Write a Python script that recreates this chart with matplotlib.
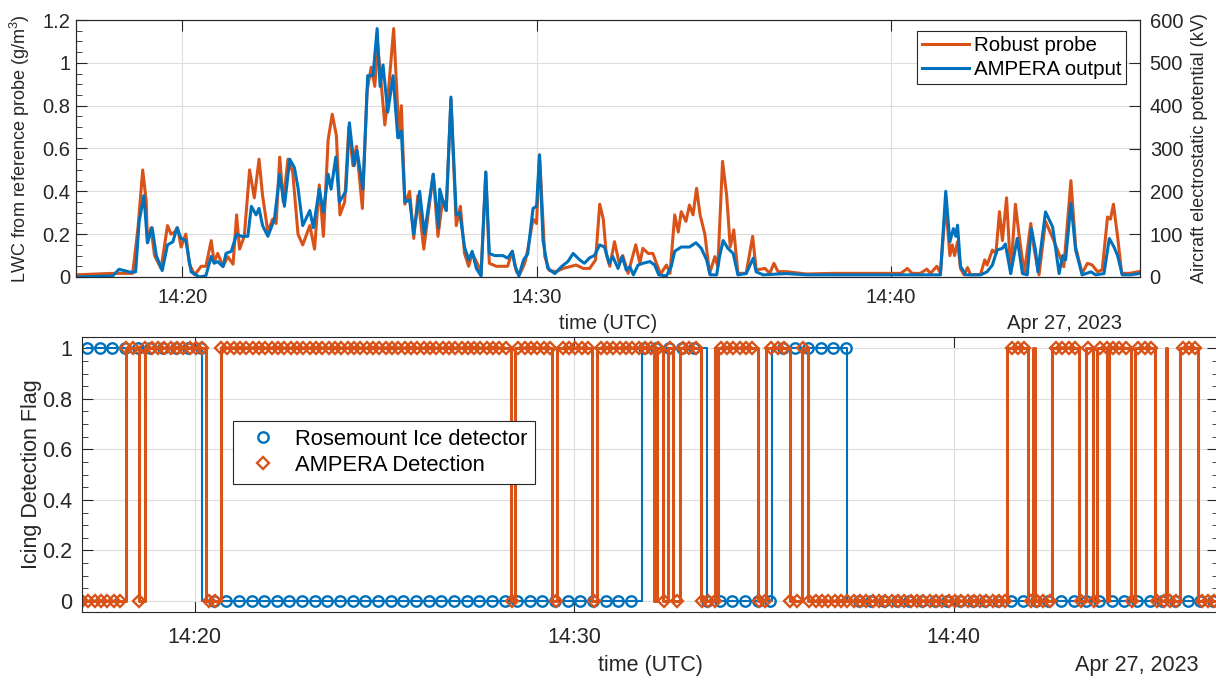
import numpy as np
import matplotlib
matplotlib.use('Agg')
from matplotlib import pyplot as plt
import matplotlib.dates as mdates
from matplotlib.ticker import MultipleLocator, FuncFormatter
from matplotlib.lines import Line2D

plt.rcParams['font.family'] = ['Liberation Sans', 'DejaVu Sans']
plt.rcParams['mathtext.fontset'] = 'custom'
plt.rcParams['mathtext.rm'] = 'Liberation Sans'

BLUE = '#0072BD'
ORANGE = '#D95319'
INK = '#262626'
GRID = '#dcdcdc'

# time is seconds after 14:17:00 UTC
T0 = np.datetime64('2023-04-27T14:17:00')

# (s, g/m3) robust probe LWC
robust = [
    (0, 0.01), (62, 0.017), (96, 0.017), (105, 0.23), (113, 0.50), (119, 0.35),
    (121, 0.16), (127, 0.23), (133, 0.10), (144, 0.04), (155, 0.24), (161, 0.20),
    (167, 0.21), (172, 0.23), (178, 0.14), (186, 0.20), (192, 0.06), (201, 0.01),
    (212, 0.05), (220, 0.05), (229, 0.17), (234, 0.07), (240, 0.11), (249, 0.05),
    (257, 0.095), (266, 0.06), (272, 0.29), (277, 0.13), (285, 0.19), (294, 0.50),
    (302, 0.37), (310, 0.55), (316, 0.38), (325, 0.21), (333, 0.27), (339, 0.25),
    (345, 0.56), (351, 0.35), (359, 0.55), (367, 0.49), (376, 0.20), (384, 0.15),
    (396, 0.24), (404, 0.13), (412, 0.43), (419, 0.19), (427, 0.64), (434, 0.76),
    (441, 0.66), (447, 0.29), (455, 0.35), (462, 0.70), (469, 0.52), (475, 0.61),
    (485, 0.32), (493, 0.87), (500, 0.98), (506, 0.89), (511, 1.08), (517, 0.90),
    (523, 0.71), (528, 0.83), (538, 1.16), (544, 0.83), (547, 0.65), (551, 0.80),
    (557, 0.34), (565, 0.40), (572, 0.18), (579, 0.38), (589, 0.13), (599, 0.35),
    (605, 0.48), (613, 0.19), (621, 0.36), (627, 0.31), (635, 0.83), (644, 0.24),
    (651, 0.33), (658, 0.11), (665, 0.05), (671, 0.11), (681, 0.056), (686, 0.01),
    (694, 0.49), (700, 0.064), (712, 0.05), (731, 0.05), (739, 0.12), (746, 0.025),
    (751, 0.01), (760, 0.064), (765, 0.126), (774, 0.27), (780, 0.25), (785, 0.57),
    (794, 0.095), (802, 0.03), (813, 0.025), (825, 0.04), (836, 0.048), (847, 0.056),
    (859, 0.04), (870, 0.04), (880, 0.08), (887, 0.34), (893, 0.27), (898, 0.11),
    (904, 0.05), (912, 0.165), (920, 0.064), (926, 0.10), (935, 0.017), (948, 0.15),
    (955, 0.064), (960, 0.134), (969, 0.11), (977, 0.11), (983, 0.064), (990, 0.014),
    (1000, 0.056), (1006, 0.017), (1014, 0.29), (1020, 0.21), (1025, 0.305),
    (1033, 0.26), (1039, 0.336), (1045, 0.29), (1051, 0.414), (1057, 0.29),
    (1065, 0.20), (1073, 0.017), (1082, 0.095), (1087, 0.048), (1095, 0.54),
    (1102, 0.38), (1108, 0.14), (1114, 0.22), (1121, 0.017), (1135, 0.017),
    (1146, 0.19), (1152, 0.033), (1167, 0.04), (1175, 0.017), (1182, 0.064),
    (1189, 0.025), (1203, 0.025), (1237, 0.014), (1284, 0.017), (1340, 0.017),
    (1397, 0.017), (1408, 0.04), (1416, 0.017), (1430, 0.017), (1441, 0.037),
    (1447, 0.017), (1458, 0.05), (1464, 0.017), (1473, 0.34), (1480, 0.10),
    (1484, 0.15), (1488, 0.10), (1493, 0.165), (1498, 0.04), (1504, 0.01),
    (1510, 0.044), (1515, 0.01), (1532, 0.012), (1539, 0.08), (1543, 0.056),
    (1552, 0.126), (1558, 0.11), (1564, 0.305), (1569, 0.17), (1576, 0.37),
    (1583, 0.017), (1591, 0.34), (1597, 0.20), (1606, 0.017), (1617, 0.25),
    (1623, 0.126), (1631, 0.01), (1642, 0.26), (1656, 0.17), (1673, 0.048),
    (1685, 0.45), (1693, 0.14), (1704, 0.017), (1713, 0.064), (1721, 0.056),
    (1730, 0.025), (1738, 0.033), (1747, 0.28), (1752, 0.27), (1757, 0.34),
    (1764, 0.19), (1771, 0.017), (1784, 0.017), (1800, 0.025),
]

# (s, kV) AMPERA output
ampera = [
    (0, 0), (62, 2.5), (73, 18), (93, 11), (101, 12), (107, 130), (115, 190),
    (121, 80), (129, 115), (136, 50), (146, 15), (155, 75), (164, 82), (171, 115),
    (178, 90), (186, 85), (195, 12), (209, 0), (220, 3), (229, 48), (234, 32),
    (240, 36), (249, 24), (254, 55), (263, 60), (272, 100), (280, 95), (291, 95),
    (297, 165), (305, 145), (310, 160), (316, 120), (325, 95), (336, 135),
    (345, 240), (353, 165), (362, 275), (370, 255), (376, 208), (384, 120),
    (396, 155), (402, 115), (412, 205), (419, 152), (427, 240), (432, 205),
    (440, 280), (446, 175), (457, 200), (463, 360), (471, 260), (476, 295),
    (486, 205), (494, 470), (503, 470), (510, 580), (515, 445), (520, 495),
    (528, 385), (537, 470), (545, 325), (551, 340), (557, 175), (565, 180),
    (572, 100), (582, 200), (590, 100), (605, 240), (614, 115), (616, 205),
    (621, 180), (627, 155), (635, 420), (639, 295), (644, 145), (650, 150),
    (658, 70), (665, 40), (671, 60), (678, 20), (686, 2.5), (694, 245), (700, 55),
    (709, 50), (723, 50), (731, 44), (739, 60), (743, 28), (750, 2.5), (758, 40),
    (765, 54), (774, 160), (780, 165), (785, 285), (791, 85), (799, 20), (811, 8),
    (822, 24), (833, 36), (842, 55), (853, 40), (861, 32), (870, 45), (878, 50),
    (887, 75), (895, 70), (903, 32), (909, 48), (918, 20), (925, 48), (932, 16),
    (938, 24), (944, 5), (952, 28), (960, 32), (972, 36), (980, 28), (987, 5),
    (1000, 2.5), (1008, 24), (1014, 60), (1025, 70), (1039, 70), (1050, 80),
    (1059, 67), (1068, 40), (1074, 5), (1085, 5), (1090, 48), (1096, 85),
    (1104, 67), (1113, 55), (1121, 5), (1135, 8), (1147, 44), (1152, 12),
    (1164, 5), (1203, 8), (1237, 5), (1397, 5), (1464, 5), (1473, 200), (1480, 82),
    (1486, 113), (1490, 95), (1493, 121), (1498, 25), (1507, 5), (1532, 5),
    (1543, 12), (1552, 28), (1560, 63), (1569, 67), (1574, 77), (1583, 8),
    (1594, 90), (1603, 8), (1611, 5), (1618, 113), (1625, 63), (1629, 12),
    (1642, 152), (1654, 117), (1665, 8), (1671, 50), (1676, 40), (1685, 172),
    (1693, 63), (1704, 5), (1719, 12), (1727, 5), (1741, 8), (1750, 90),
    (1758, 70), (1764, 50), (1772, 5), (1786, 5), (1800, 8),
]

# icing flag = 1 periods (s)
rosemount_on = [(0, 192), (887, 990), (1093, 1211)]
ampera_on = [
    (71, 92), (101, 198), (221, 680), (687, 745), (753, 808), (816, 906),
    (911, 921), (929, 937), (948, 981), (1003, 1004), (1007, 1071), (1083, 1122),
    (1140, 1150), (1464, 1498), (1506, 1509), (1535, 1578), (1590, 1601),
    (1607, 1623), (1626, 1660), (1667, 1698), (1715, 1718), (1738, 1767),
]
# sample times of the two flags (s)
rosemount_t = np.arange(10, 1800, 20)
ampera_t = np.arange(2, 1800, 10)


def to_time(sec):
    return T0 + np.round(np.asarray(sec, dtype=float) * 1000).astype('timedelta64[ms]')


def flag_at(t, on):
    return np.array([1 if any(a <= x < b for a, b in on) else 0 for x in t])


def step_xy(on, t0, t1):
    xs, ys = [t0], [0]
    for a, b in on:
        if a <= t0:
            ys[0] = 1
            xs += [b, b]
            ys += [1, 0]
        else:
            xs += [a, a, b, b]
            ys += [0, 1, 1, 0]
    xs.append(t1)
    ys.append(0)
    return xs, ys


def style_time_axis(ax):
    ax.xaxis.set_major_locator(mdates.MinuteLocator(byminute=[20, 30, 40]))
    ax.xaxis.set_major_formatter(mdates.DateFormatter('%H:%M'))


fmt = FuncFormatter(lambda v, p: '%g' % round(v, 3))

fig = plt.figure(figsize=(12.16, 6.82), dpi=100)

# ---- top panel: LWC and potential
ax1 = fig.add_axes([76 / 1216, 1 - 277 / 682, 1064 / 1216, 257 / 682])
ax1r = ax1.twinx()
rt, rv = np.array(robust).T
at, av = np.array(ampera).T
l1, = ax1.plot(to_time(rt), rv, color=ORANGE, lw=2.2, solid_joinstyle='round',
               label='Robust probe')
l2, = ax1r.plot(to_time(at), av, color=BLUE, lw=2.2, solid_joinstyle='round',
                label='AMPERA output')

ax1.set_xlim(to_time(0), to_time(1802))
ax1.set_ylim(0, 1.2)
ax1r.set_ylim(0, 600)
style_time_axis(ax1)
ax1.yaxis.set_major_locator(MultipleLocator(0.2))
ax1.yaxis.set_minor_locator(MultipleLocator(0.05))
ax1.yaxis.set_major_formatter(fmt)
ax1r.yaxis.set_major_locator(MultipleLocator(100))
ax1.set_axisbelow(True)
ax1.grid(True, color=GRID, lw=0.8)

ax1.tick_params(axis='x', which='both', direction='in', top=True, length=8,
                labelsize=14.5, pad=8, colors=INK)
ax1.tick_params(axis='y', which='major', direction='in', length=8,
                labelsize=14.5, pad=4, colors=INK)
ax1.tick_params(axis='y', which='minor', direction='in', length=4, colors=INK)
ax1r.tick_params(axis='y', which='major', direction='in', length=8,
                 labelsize=14.5, pad=7, colors=INK)
for a in (ax1, ax1r):
    for s in a.spines.values():
        s.set_color(INK)
        s.set_linewidth(0.8)

ax1.set_ylabel('LWC from reference probe (g/m$^3$)', fontsize=13, color=INK)
ax1.yaxis.set_label_coords(-0.041, 0.5)
ax1r.set_ylabel('Aircraft electrostatic potential (kV)', fontsize=13, color=INK)
ax1r.yaxis.set_label_coords(1.048, 0.5)
ax1.set_xlabel('time (UTC)', fontsize=14.5, color=INK)
ax1.xaxis.set_label_coords(0.5, -0.145)
ax1.text(0.983, -0.145, 'Apr 27, 2023', transform=ax1.transAxes, ha='right',
         va='top', fontsize=14.5, color=INK)

leg1 = ax1r.legend(handles=[l1, l2], loc='upper right', bbox_to_anchor=(0.987, 0.957),
                   borderaxespad=0, fontsize=14.8, fancybox=False, framealpha=1,
                   edgecolor=INK, handlelength=2.3, handletextpad=0.2,
                   labelspacing=0.25, borderpad=0.25)
leg1.get_frame().set_linewidth(0.8)

# ---- bottom panel: detection flags
ax2 = fig.add_axes([82 / 1216, 1 - 612 / 682, 1136 / 1216, 275 / 682])
bx, by = step_xy(rosemount_on, rosemount_t[0], rosemount_t[-1])
ax2.plot(to_time(bx), by, color=BLUE, lw=1.5)
ax2.plot(to_time(rosemount_t), flag_at(rosemount_t, rosemount_on), 'o', ls='none',
         color=BLUE, mfc='none', ms=7.5, mew=1.7)
ox, oy = step_xy(ampera_on, ampera_t[0], ampera_t[-1])
ax2.plot(to_time(ox), oy, color=ORANGE, lw=2.2)
ax2.plot(to_time(ampera_t), flag_at(ampera_t, ampera_on), 'D', ls='none',
         color=ORANGE, mfc='none', ms=6.3, mew=1.7)

ax2.set_xlim(to_time(2), to_time(1798))
ax2.set_ylim(-0.044, 1.045)
style_time_axis(ax2)
ax2.yaxis.set_major_locator(MultipleLocator(0.2))
ax2.yaxis.set_minor_locator(MultipleLocator(0.05))
ax2.yaxis.set_major_formatter(fmt)
ax2.set_axisbelow(True)
ax2.grid(True, color=GRID, lw=0.8)
ax2.tick_params(axis='x', which='both', direction='in', top=True, length=8,
                labelsize=15.5, pad=11, colors=INK)
ax2.tick_params(axis='y', which='major', direction='in', right=True, length=8,
                labelsize=15.5, pad=7, colors=INK)
ax2.tick_params(axis='y', which='minor', direction='in', right=True, length=4,
                colors=INK)
for s in ax2.spines.values():
    s.set_color(INK)
    s.set_linewidth(0.8)

ax2.set_ylabel('Icing Detection Flag', fontsize=15.5, color=INK)
ax2.yaxis.set_label_coords(-0.035, 0.5)
ax2.set_xlabel('time (UTC)', fontsize=15.5, color=INK)
ax2.xaxis.set_label_coords(0.5, -0.155)
ax2.text(0.983, -0.155, 'Apr 27, 2023', transform=ax2.transAxes, ha='right',
         va='top', fontsize=15.5, color=INK)

h1 = Line2D([], [], ls='none', marker='o', color=BLUE, mfc='none', ms=7.5, mew=1.7)
h2 = Line2D([], [], ls='none', marker='D', color=ORANGE, mfc='none', ms=6.3, mew=1.7)
leg2 = ax2.legend([h1, h2], ['Rosemount Ice detector', 'AMPERA Detection'],
                  loc='upper left', bbox_to_anchor=(0.133, 0.695), borderaxespad=0,
                  fontsize=15.8, fancybox=False, framealpha=1, edgecolor=INK,
                  handlelength=2.0, handletextpad=0.45, labelspacing=0.25,
                  borderpad=0.35)
leg2.get_frame().set_linewidth(0.8)

fig.savefig('out.png', dpi=100)
